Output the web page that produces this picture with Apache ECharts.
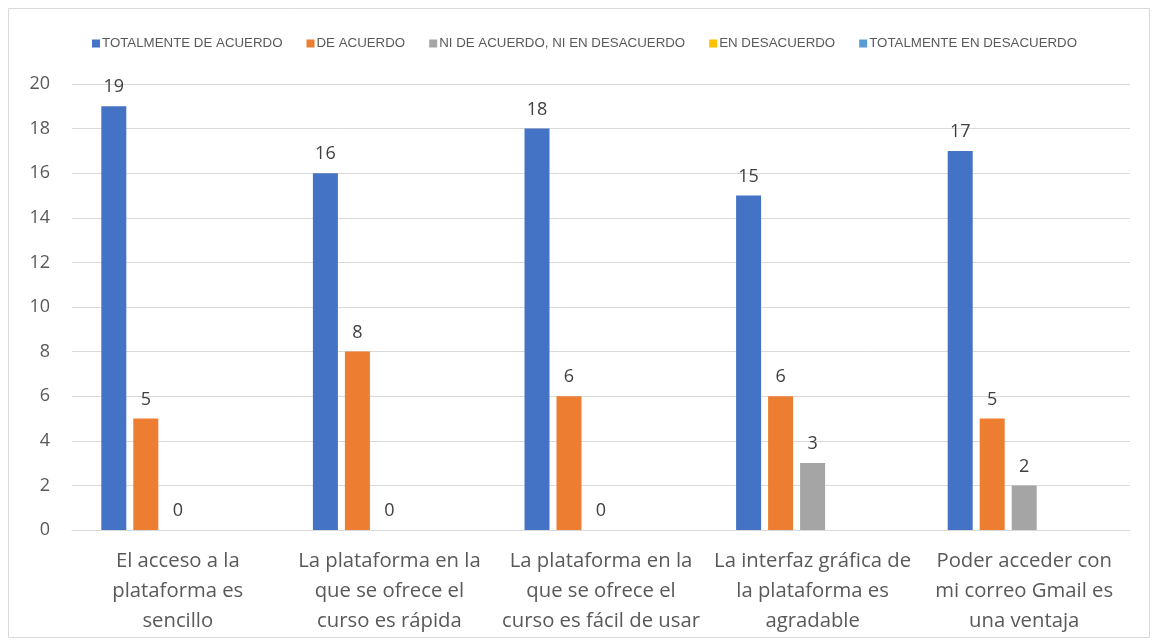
<!DOCTYPE html>
<html>
<head>
<meta charset="utf-8">
<script src="https://cdn.jsdelivr.net/npm/echarts@6/dist/echarts.min.js"></script>
<style>
  html, body { margin: 0; padding: 0; background: #fff; }
  #chart { width: 1157px; height: 644px; }
</style>
</head>
<body>
<div id="chart"></div>
<script>
// datos de la encuesta
var categorias = [
    'El acceso a la\nplataforma es\nsencillo',
    'La plataforma en la\nque se ofrece el\ncurso es rápida',
    'La plataforma en la\nque se ofrece el\ncurso es fácil de usar',
    'La interfaz gráfica de\nla plataforma es\nagradable',
    'Poder acceder con\nmi correo Gmail es\nuna ventaja'
];
var totalmenteDeAcuerdo = [19, 16, 18, 15, 17];
var deAcuerdo = [5, 8, 6, 6, 5];
var niDeAcuerdo = [0, 0, 0, 3, 2];
var enDesacuerdo = [0, 0, 0, 0, 0];
var totalmenteEnDesacuerdo = [0, 0, 0, 0, 0];
var nombres = ['TOTALMENTE DE ACUERDO', 'DE ACUERDO', 'NI DE ACUERDO, NI EN DESACUERDO', 'EN DESACUERDO', 'TOTALMENTE EN DESACUERDO'];
var colores = ['#4472C4', '#ED7D31', '#A5A5A5', '#FFC000', '#5B9BD5'];

var chart = echarts.init(document.getElementById('chart'));

function serie(i, data, conEtiqueta) {
    return {
        name: nombres[i],
        type: 'bar',
        data: data,
        barWidth: 25,
        barGap: '28%',
        itemStyle: { color: colores[i] },
        label: {
            show: conEtiqueta,
            position: 'top',
            distance: 10,
            fontSize: 18,
            color: '#404040',
            fontFamily: 'Open Sans, sans-serif'
        }
    };
}

chart.setOption({
    animation: false,
    graphic: [{
        type: 'rect',
        shape: { x: 8.5, y: 8.5, width: 1141, height: 629 },
        style: { fill: null, stroke: '#d9d9d9', lineWidth: 1 }
    }],
    legend: {
        top: 32,
        left: 87,
        itemWidth: 8,
        itemHeight: 8,
        itemGap: 24,
        icon: 'rect',
        textStyle: {
            fontSize: 13.3,
            color: '#595959',
            fontFamily: 'Liberation Sans Narrow, Arial Narrow, sans-serif',
            padding: [0, 0, 0, -3]
        },
        data: nombres
    },
    grid: { left: 72, right: 27, top: 84, bottom: 114 },
    xAxis: {
        type: 'category',
        data: categorias,
        axisTick: { show: false },
        axisLine: { lineStyle: { color: '#d9d9d9', width: 1 } },
        axisLabel: {
            interval: 0,
            fontSize: 20.3,
            lineHeight: 30,
            margin: 16,
            color: '#595959',
            fontFamily: 'Open Sans, sans-serif'
        }
    },
    yAxis: {
        type: 'value',
        min: 0,
        max: 20,
        interval: 2,
        axisLabel: {
            fontSize: 18,
            color: '#595959',
            margin: 22,
            fontFamily: 'Open Sans, sans-serif'
        },
        splitLine: { lineStyle: { color: '#d9d9d9', width: 1 } }
    },
    series: [
        serie(0, totalmenteDeAcuerdo, true),
        serie(1, deAcuerdo, true),
        serie(2, niDeAcuerdo, true),
        serie(3, enDesacuerdo, false),
        serie(4, totalmenteEnDesacuerdo, false)
    ]
});
</script>
</body>
</html>
